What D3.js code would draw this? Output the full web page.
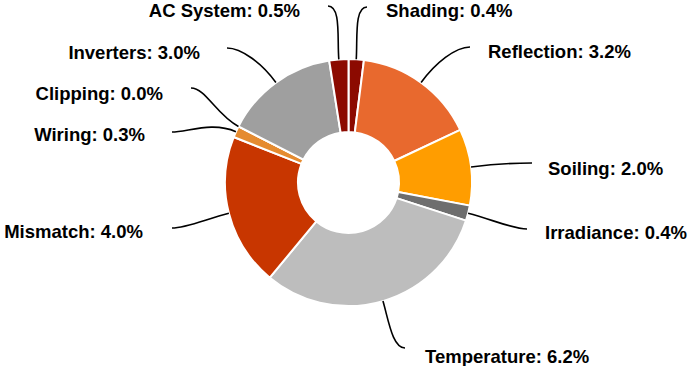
<!DOCTYPE html>
<html>
<head>
<meta charset="utf-8">
<script src="https://cdn.jsdelivr.net/npm/d3@7"></script>
<style>
  body { margin: 0; background: #fff; }
  text { font-family: "Liberation Sans", Arial, sans-serif; font-weight: bold; font-size: 18.5px; fill: #000; }
</style>
</head>
<body>
<script>
// loss categories, clockwise from the top
var categories = ["Shading", "Reflection", "Soiling", "Irradiance", "Temperature",
                  "Mismatch", "Wiring", "Clipping", "Inverters", "AC System"];
var lossValues = [0.4, 3.2, 2.0, 0.4, 6.2, 4.0, 0.3, 0.0, 3.0, 0.5];
var sliceColors = ["#8c0a00", "#e8692e", "#ff9d00", "#6e6e6e", "#bdbdbd",
                   "#c83600", "#e58b30", "#e8a040", "#9f9f9f", "#8c0a00"];

// where each label sits (text baseline) and where its leader line ends
var labelLayout = {
  "Shading":     {tx: 386, ty: 17,  anchor: "start", lx: 367, ly: 7},
  "Reflection":  {tx: 488, ty: 58,  anchor: "start", lx: 470, ly: 47},
  "Soiling":     {tx: 548, ty: 175, anchor: "start", lx: 532, ly: 163},
  "Irradiance":  {tx: 545, ty: 239, anchor: "start", lx: 527, ly: 229},
  "Temperature": {tx: 425, ty: 363, anchor: "start", lx: 405, ly: 348},
  "Mismatch":    {tx: 143, ty: 238, anchor: "end",   lx: 172, ly: 228},
  "Wiring":      {tx: 145, ty: 141, anchor: "end",   lx: 172, ly: 132},
  "Clipping":    {tx: 163, ty: 100, anchor: "end",   lx: 191, ly: 88},
  "Inverters":   {tx: 200, ty: 59,  anchor: "end",   lx: 227, ly: 48},
  "AC System":   {tx: 300, ty: 17,  anchor: "end",   lx: 328, ly: 6}
};

var width = 692, height = 366;
var cx = 348.5, cy = 182.5, outerR = 123.5, innerR = 50.5;

var svg = d3.select("body").append("svg")
    .attr("width", width).attr("height", height);

var g = svg.append("g").attr("transform", "translate(" + cx + "," + cy + ")");

var pie = d3.pie().sort(null).value(function(d) { return d; });
var arcs = pie(lossValues);

var arc = d3.arc().innerRadius(innerR).outerRadius(outerR);
var edgeArc = d3.arc().innerRadius(outerR).outerRadius(outerR);

g.selectAll("path.slice").data(arcs).enter()
  .append("path")
    .attr("class", "slice")
    .attr("d", arc)
    .attr("fill", function(d, i) { return sliceColors[i]; })
    .attr("stroke", "#fff")
    .attr("stroke-width", 2)
    .attr("stroke-linejoin", "round");

// curved leader lines from the outer edge to the labels
g.selectAll("path.leader").data(arcs).enter()
  .append("path")
    .attr("class", "leader")
    .attr("fill", "none")
    .attr("stroke", "#000")
    .attr("stroke-width", 1.6)
    .attr("d", function(d, i) {
      var lay = labelLayout[categories[i]];
      var p0 = edgeArc.centroid(d);
      var a = (d.startAngle + d.endAngle) / 2;
      var ex = lay.lx - cx, ey = lay.ly - cy;
      var dist = Math.sqrt((ex - p0[0]) * (ex - p0[0]) + (ey - p0[1]) * (ey - p0[1]));
      var k = dist * 0.4;
      var side = lay.anchor === "start" ? -1 : 1;
      var p = d3.path();
      p.moveTo(p0[0], p0[1]);
      p.bezierCurveTo(p0[0] + Math.sin(a) * k, p0[1] - Math.cos(a) * k,
                      ex + side * k * 0.6, ey,
                      ex, ey);
      return p.toString();
    });

svg.selectAll("text.label").data(arcs).enter()
  .append("text")
    .attr("class", "label")
    .attr("x", function(d, i) { return labelLayout[categories[i]].tx; })
    .attr("y", function(d, i) { return labelLayout[categories[i]].ty; })
    .attr("text-anchor", function(d, i) { return labelLayout[categories[i]].anchor; })
    .text(function(d, i) { return categories[i] + ": " + lossValues[i].toFixed(1) + "%"; });
</script>
</body>
</html>
